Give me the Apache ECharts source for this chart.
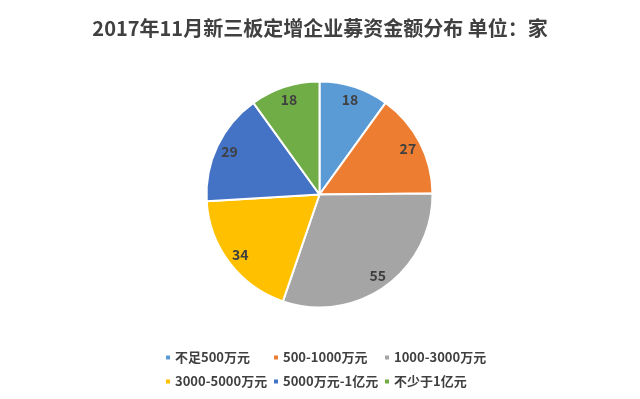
<!DOCTYPE html>
<html>
<head>
<meta charset="utf-8">
<script src="https://cdn.jsdelivr.net/npm/echarts@6/dist/echarts.min.js"></script>
<style>
html,body{margin:0;padding:0;background:#fff;}
#c{width:640px;height:399px;}
</style>
</head>
<body>
<div id="c"></div>
<script>
const categories = ['不足500万元', '500-1000万元', '1000-3000万元', '3000-5000万元', '5000万元-1亿元', '不少于1亿元'];
const values = [18, 27, 55, 34, 29, 18];
const colors = ['#5B9BD5', '#ED7D31', '#A5A5A5', '#FFC000', '#4472C4', '#70AD47'];
const titleText = '2017年11月新三板定增企业募资金额分布 单位：家';

const FONT = '"Noto Sans CJK SC", "Noto Sans", sans-serif';
const data = categories.map((c, i) => ({ name: c, value: values[i] }));

const legendCol = (items, left) => ({
  orient: 'vertical',
  left: left,
  top: 346,
  itemWidth: 6,
  itemHeight: 6,
  itemGap: 11,
  icon: 'rect',
  selectedMode: false,
  data: items,
  textStyle: { fontFamily: FONT, fontSize: 13, fontWeight: 'bold', color: '#404040', padding: [0, 0, 0, -1] }
});

const chart = echarts.init(document.getElementById('c'));
chart.setOption({
  backgroundColor: '#ffffff',
  color: colors,
  animation: false,
  title: {
    text: titleText,
    left: 'center',
    top: 13,
    textStyle: { fontFamily: FONT, fontSize: 20, fontWeight: 'bold', color: '#404040' }
  },
  legend: [
    legendCol([categories[0], categories[3]], 159),
    legendCol([categories[1], categories[4]], 267),
    legendCol([categories[2], categories[5]], 378)
  ],
  series: [
    {
      type: 'pie',
      center: [319.5, 194.5],
      radius: [0, 113],
      startAngle: 90,
      clockwise: true,
      data: data,
      label: { show: false },
      labelLine: { show: false },
      itemStyle: { borderColor: '#ffffff', borderWidth: 2 },
      emphasis: { disabled: true }
    },
    {
      type: 'pie',
      center: [319.5, 194.5],
      radius: [80, 113],
      startAngle: 90,
      clockwise: true,
      silent: true,
      legendHoverLink: false,
      data: data,
      itemStyle: { color: 'rgba(0,0,0,0)', borderWidth: 0 },
      label: {
        show: true,
        position: 'inside',
        formatter: '{c}',
        fontFamily: FONT,
        fontSize: 14,
        fontWeight: 'bold',
        color: '#404040'
      },
      labelLine: { show: false },
      emphasis: { disabled: true }
    }
  ]
});
</script>
</body>
</html>
